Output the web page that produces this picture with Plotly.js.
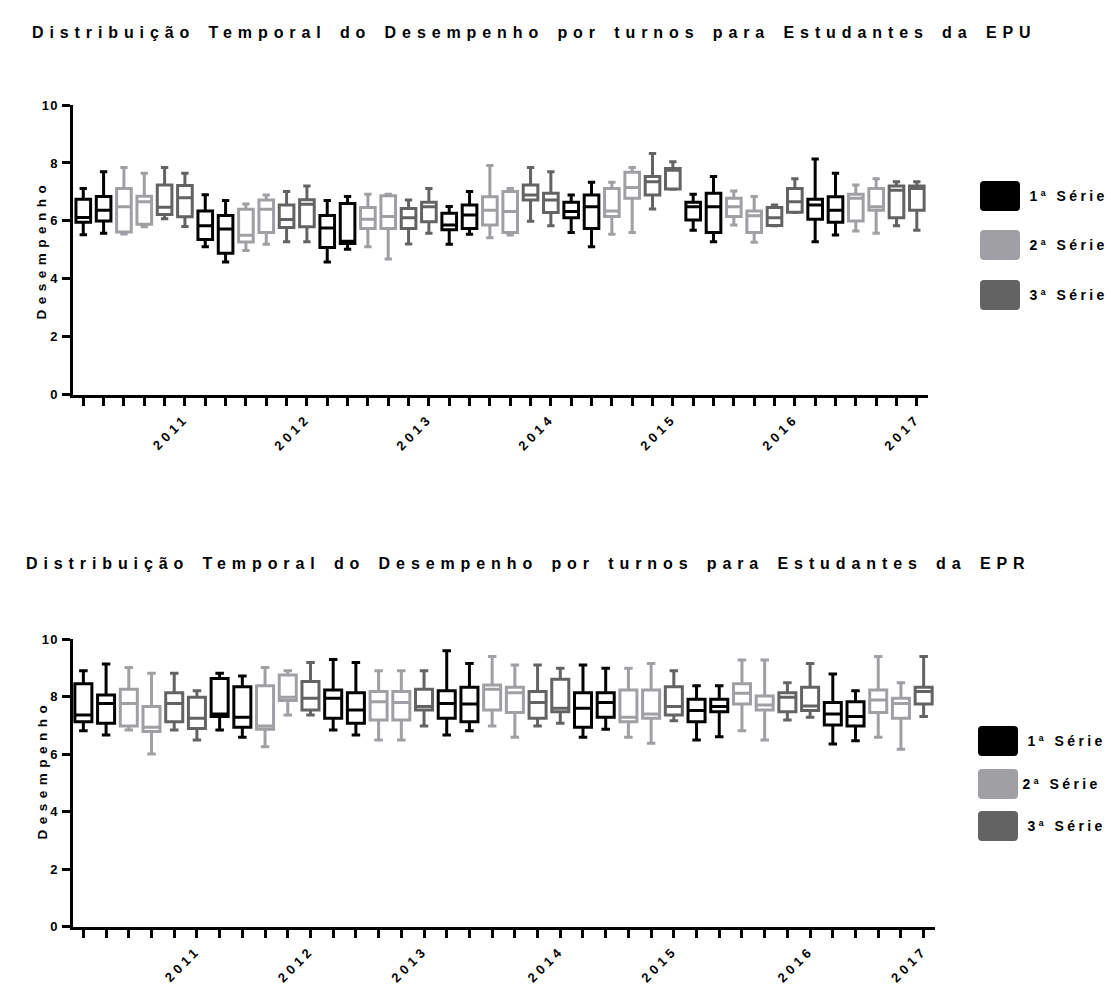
<!DOCTYPE html>
<html><head><meta charset="utf-8">
<script src="https://cdn.plot.ly/plotly-3.0.1.min.js"></script>
<style>
body{margin:0;background:#fff}
#chart{width:1111px;height:985px}
.xtick text, .x2tick text {letter-spacing:4px}
.ytick text, .y2tick text {letter-spacing:1.5px}
g.annotation text {letter-spacing:3.4px}
g.annotation[data-index="0"] text, g.annotation[data-index="1"] text {letter-spacing:5.9px; word-spacing:3px}
g.annotation[data-index="8"] text, g.annotation[data-index="9"] text {letter-spacing:5.5px}
</style>
</head><body>
<div id="chart"></div>
<script>
const years = ['2011','2012','2013','2014','2015','2016','2017'];
const seriesNames = ['1ª Série','2ª Série','3ª Série'];
const seriesColors = ['#000000','#a0a0a4','#636363'];
const titleEPU = 'Distribuição Temporal do Desempenho por turnos para Estudantes da EPU';
const titleEPR = 'Distribuição Temporal do Desempenho por turnos para Estudantes da EPR';
const yTitle = 'Desempenho';
const yTicks = [0,2,4,6,8,10];

// EPU: 42 boxes
const epuYear = ['2011','2011','2011','2011','2011','2011','2012','2012','2012','2012','2012','2012',
 '2013','2013','2013','2013','2013','2013','2014','2014','2014','2014','2014','2014',
 '2015','2015','2015','2015','2015','2015','2016','2016','2016','2016','2016','2016',
 '2017','2017','2017','2017','2017','2017'];
const epuSerie = [1,1,2,2,3,3, 1,1,2,2,3,3, 1,1,2,2,3,3, 1,1,2,2,3,3, 1,1,2,2,3,3, 1,1,2,2,3,3, 1,1,2,2,3,3];
const epuMin = [5.52,5.57,5.55,5.80,6.07,5.81, 5.11,4.58,4.98,5.19,5.28,5.28, 4.58,5.02,5.11,4.68,5.20,5.57,
 5.19,5.54,5.42,5.51,5.99,5.83, 5.60,5.11,5.54,5.60,6.41,7.09, 5.68,5.28,5.86,5.26,5.83,6.29, 5.28,5.51,5.65,5.57,5.83,5.68];
const epuQ1 = [5.95,6.00,5.62,5.88,6.22,6.14, 5.36,4.88,5.27,5.60,5.77,5.80, 5.08,5.22,5.74,5.74,5.74,5.97,
 5.69,5.74,5.86,5.60,6.72,6.29, 6.11,5.74,6.15,6.78,6.89,7.10, 6.03,5.60,6.15,5.60,5.84,6.30, 6.06,5.95,6.00,6.37,6.11,6.37];
const epuMed = [6.12,6.37,6.49,6.66,6.47,6.80, 5.83,5.72,5.50,6.40,6.05,6.57, 5.75,5.30,6.06,6.15,6.11,6.49,
 5.86,6.20,6.37,6.32,6.89,6.72, 6.32,6.49,6.34,7.15,7.35,7.75, 6.49,6.49,6.49,6.18,6.11,6.66, 6.55,6.37,6.78,6.49,7.06,7.12];
const epuQ3 = [6.75,6.84,7.12,6.85,7.24,7.22, 6.34,6.19,6.40,6.72,6.55,6.73, 6.19,6.60,6.46,6.87,6.43,6.64,
 6.26,6.55,6.83,7.01,7.24,6.95, 6.64,6.89,7.12,7.68,7.53,7.81, 6.64,6.95,6.78,6.34,6.46,7.12, 6.75,6.83,6.92,7.12,7.20,7.20];
const epuMax = [7.12,7.70,7.84,7.64,7.84,7.64, 6.90,6.70,6.58,6.89,7.01,7.20, 6.70,6.84,6.92,6.92,6.72,7.12,
 6.50,7.01,7.91,7.12,7.84,7.70, 6.89,7.33,7.33,7.84,8.33,8.04, 6.92,7.53,7.03,6.84,6.55,7.45, 8.14,7.64,7.24,7.45,7.35,7.35];

// EPR: 38 boxes
const eprYear = ['2011','2011','2011','2011','2011','2011','2012','2012','2012','2012','2012',
 '2013','2013','2013','2013','2013','2014','2014','2014','2014','2014','2014',
 '2015','2015','2015','2015','2015','2016','2016','2016','2016','2016','2016',
 '2017','2017','2017','2017','2017'];
const eprSerie = [1,1,2,2,3,3, 1,1,2,2,3, 1,1,2,2,3, 1,1,2,2,3,3, 1,1,2,2,3, 1,1,2,2,3,3, 1,1,2,2,3];
const eprMin = [6.82,6.67,6.84,6.01,6.84,6.50, 6.84,6.59,6.26,7.37,7.37, 6.84,6.67,6.50,6.50,6.98,
 6.67,6.82,6.98,6.59,6.98,7.08, 6.59,6.87,6.59,6.38,7.17, 6.50,6.61,6.82,6.50,7.19,7.29, 6.36,6.47,6.59,6.17,7.31];
const eprQ1 = [7.13,7.08,6.98,6.79,7.13,6.90, 7.31,6.94,6.87,7.87,7.54, 7.25,7.08,7.19,7.19,7.54,
 7.25,7.13,7.54,7.45,7.25,7.48, 6.94,7.29,7.13,7.25,7.37, 7.13,7.48,7.75,7.54,7.48,7.52, 7.02,6.98,7.45,7.25,7.75];
const eprMed = [7.37,7.77,7.77,6.94,7.77,7.25, 7.40,7.29,6.98,7.98,7.95, 7.95,7.54,7.83,7.80,7.66,
 7.77,7.75,8.26,8.14,7.80,7.60, 7.60,7.80,7.29,7.40,7.66, 7.52,7.66,8.12,7.71,7.98,7.68, 7.40,7.31,7.89,7.77,8.18];
const eprQ3 = [8.45,8.06,8.26,7.66,8.14,7.98, 8.64,8.35,8.38,8.76,8.53, 8.24,8.14,8.18,8.18,8.26,
 8.21,8.33,8.41,8.33,8.18,8.61, 8.14,8.14,8.24,8.24,8.35, 7.91,7.91,8.45,8.03,8.14,8.33, 7.80,7.83,8.24,7.95,8.33];
const eprMax = [8.91,9.14,9.02,8.82,8.82,8.21, 8.82,8.72,9.02,8.91,9.19, 9.30,9.19,8.91,8.91,8.91,
 9.60,9.16,9.40,9.11,9.11,8.99, 9.11,8.99,8.99,9.16,8.91, 8.38,8.38,9.28,9.28,8.49,9.16, 8.79,8.21,9.40,8.49,9.40];

function panelTraces(yearArr, serieArr, mn, q1, med, q3, mx, xa, ya, bw) {
  const traces = [];
  for (let s = 1; s <= 3; s++) {
    const idx = serieArr.map((v,i)=>v===s?i:-1).filter(i=>i>=0);
    traces.push({
      type:'box', xaxis:xa, yaxis:ya, name:seriesNames[s-1], showlegend:false,
      x: idx, q1: idx.map(i=>q1[i]), median: idx.map(i=>med[i]), q3: idx.map(i=>q3[i]),
      lowerfence: idx.map(i=>mn[i]), upperfence: idx.map(i=>mx[i]),
      width: bw, whiskerwidth: 0.5, boxpoints:false,
      line:{color:seriesColors[s-1], width:3}, fillcolor:'rgba(255,255,255,0)',
      hoverinfo:'skip'
    });
  }
  return traces;
}
function tickInfo(yearArr) {
  const vals = yearArr.map((_,i)=>i);
  const text = yearArr.map((y,i)=> (i===yearArr.length-1 || yearArr[i+1]!==y) ? y : '');
  return {vals, text};
}

const W = 1111, H = 985;
const FONT = 'Liberation Sans, Arial, sans-serif';
const px = x => x / W, py = y => 1 - y / H;

const data = [
  ...panelTraces(epuYear, epuSerie, epuMin, epuQ1, epuMed, epuQ3, epuMax, 'x', 'y', 0.72),
  ...panelTraces(eprYear, eprSerie, eprMin, eprQ1, eprMed, eprQ3, eprMax, 'x2', 'y2', 0.75)
];

const t1 = tickInfo(epuYear), t2 = tickInfo(eprYear);
const xCommon = {showline:true, linewidth:3, linecolor:'#000', ticks:'outside', ticklen:8, tickwidth:3,
  tickcolor:'#000', showgrid:false, zeroline:false, tickangle:-45, automargin:false,
  tickfont:{family:FONT, size:13, color:'#000', weight:'bold'}, tickmode:'array'};
const yCommon = {showline:true, linewidth:3, linecolor:'#000', ticks:'outside', ticklen:8, tickwidth:3,
  tickcolor:'#000', showgrid:false, zeroline:false, range:[0,10], tickmode:'array', tickvals:yTicks,
  automargin:false, tickfont:{family:FONT, size:13, color:'#000', weight:'bold'}};

function roundRect(x0,y0,x1,y1,r){
  const X=v=>px(v).toFixed(5), Y=v=>py(v).toFixed(5);
  return `M${X(x0+r)},${Y(y0)} L${X(x1-r)},${Y(y0)} Q${X(x1)},${Y(y0)} ${X(x1)},${Y(y0+r)} L${X(x1)},${Y(y1-r)} Q${X(x1)},${Y(y1)} ${X(x1-r)},${Y(y1)} L${X(x0+r)},${Y(y1)} Q${X(x0)},${Y(y1)} ${X(x0)},${Y(y1-r)} L${X(x0)},${Y(y0+r)} Q${X(x0)},${Y(y0)} ${X(x0+r)},${Y(y0)} Z`;
}
const legTop = [196, 245, 295], legBot = [741, 784, 826];
const legTextTop = [1068, 1068, 1068], legTextBot = [1066, 1061, 1066];
const shapes = [], annotations = [
  {text:titleEPU, xref:'paper', yref:'paper', x:px(534), y:py(33), xanchor:'center', yanchor:'middle', showarrow:false,
   font:{family:FONT, size:16, color:'#000', weight:'bold'}},
  {text:titleEPR, xref:'paper', yref:'paper', x:px(528), y:py(563), xanchor:'center', yanchor:'middle', showarrow:false,
   font:{family:FONT, size:16, color:'#000', weight:'bold'}}
];
[[legTop, legTextTop, 980, 1020], [legBot, legTextBot, 978, 1018]].forEach(([ys, xs, x0, x1]) => {
  ys.forEach((yc, k) => {
    shapes.push({type:'path', xref:'paper', yref:'paper', path:roundRect(x0, yc-15, x1, yc+15, 4),
      fillcolor:seriesColors[k], line:{width:0}});
    annotations.push({text:seriesNames[k], xref:'paper', yref:'paper', x:px(xs[k]), y:py(yc), xanchor:'center',
      yanchor:'middle', showarrow:false, font:{family:FONT, size:14, color:'#000', weight:'bold'}});
  });
});
// y axis titles (index 8, 9)
[[250],[770]].forEach(([yc]) => {
  annotations.push({text:yTitle, xref:'paper', yref:'paper', x:px(42), y:py(yc), xanchor:'center', yanchor:'middle',
    textangle:-90, showarrow:false, font:{family:FONT, size:13.5, color:'#000', weight:'bold'}});
});

const layout = {
  width:W, height:H, margin:{l:0,r:0,t:0,b:0}, paper_bgcolor:'#fff', plot_bgcolor:'#fff',
  showlegend:false, boxmode:'overlay',
  xaxis:{...xCommon, domain:[px(72.7), px(928)], range:[-0.52, 41.55], tickvals:t1.vals, ticktext:t1.text, anchor:'y'},
  yaxis:{...yCommon, domain:[py(394.7), py(105)], anchor:'x'},
  xaxis2:{...xCommon, domain:[px(72.7), px(935)], range:[-0.47, 37.5], tickvals:t2.vals, ticktext:t2.text, anchor:'y2'},
  yaxis2:{...yCommon, domain:[py(926.7), py(639.3)], anchor:'x2'},
  shapes, annotations
};
Plotly.newPlot('chart', data, layout, {staticPlot:true, displayModeBar:false});
</script>
</body></html>
